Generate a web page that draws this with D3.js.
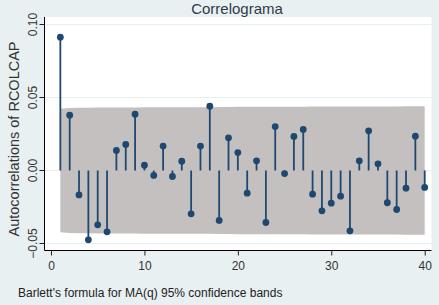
<!DOCTYPE html>
<html>
<head>
<meta charset="utf-8">
<script src="https://cdn.jsdelivr.net/npm/d3@7"></script>
<style>
  body { margin: 0; background: #e9f0f2; }
  svg { display: block; font-family: Arial, "Liberation Sans", sans-serif; }
</style>
</head>
<body>
<div id="chart"></div>
<script>
"use strict";

// autocorrelations by lag
var lags = d3.range(1, 41);
var acf = [0.0913, 0.0379, -0.0167, -0.0475, -0.0372, -0.0420, 0.0137, 0.0178, 0.0386, 0.0036,
           -0.0034, 0.0167, -0.0041, 0.0064, -0.0297, 0.0167, 0.0440, -0.0342, 0.0224, 0.0123,
           -0.0155, 0.0066, -0.0356, 0.0301, -0.0021, 0.0233, 0.0281, -0.0162, -0.0276, -0.0224,
           -0.0176, -0.0413, 0.0066, 0.0272, 0.0046, -0.0221, -0.0267, -0.0121, 0.0235, -0.0116];
// half width of the Bartlett band at each lag
var band = [0.0423, 0.0428, 0.0429, 0.0429, 0.0431, 0.0431, 0.0432, 0.0432, 0.0432, 0.0433,
            0.0433, 0.0433, 0.0433, 0.0433, 0.0433, 0.0434, 0.0434, 0.0435, 0.0435, 0.0436,
            0.0436, 0.0436, 0.0436, 0.0437, 0.0437, 0.0437, 0.0437, 0.0438, 0.0438, 0.0438,
            0.0438, 0.0439, 0.0439, 0.0439, 0.0439, 0.0439, 0.0439, 0.0440, 0.0440, 0.0440];
var xTicks = [0, 10, 20, 30, 40];
var yTicks = [-0.05, 0, 0.05, 0.10];

var W = 439, H = 305;
var plot = { left: 44.5, right: 431.5, top: 17, bottom: 250.5 };

var svg = d3.select("#chart").append("svg").attr("width", W).attr("height", H);

svg.append("rect").attr("width", W).attr("height", H).attr("fill", "#e9f0f2");
svg.append("rect")
  .attr("x", plot.left).attr("y", plot.top)
  .attr("width", plot.right - plot.left).attr("height", plot.bottom - plot.top)
  .attr("fill", "#ffffff");

var x = d3.scaleLinear().domain([0, 40]).range([51, 424.7]);
var y = d3.scaleLinear().domain([-0.05, 0.10]).range([243.5, 24.5]);

// gridlines
svg.append("g").selectAll("line").data(yTicks).join("line")
  .attr("x1", plot.left).attr("x2", plot.right)
  .attr("y1", function (d) { return y(d); }).attr("y2", function (d) { return y(d); })
  .attr("stroke", "#e6eef0").attr("stroke-width", 1.2);

// confidence band
var area = d3.area()
  .x(function (d, i) { return x(lags[i]); })
  .y0(function (d) { return y(-d); })
  .y1(function (d) { return y(d); });
svg.append("path").datum(band).attr("d", area).attr("fill", "#c3c0bf");

// stems + markers
var navy = "#1f4870";
svg.append("g").selectAll("line").data(acf).join("line")
  .attr("x1", function (d, i) { return x(lags[i]); })
  .attr("x2", function (d, i) { return x(lags[i]); })
  .attr("y1", y(0))
  .attr("y2", function (d) { return y(d); })
  .attr("stroke", navy).attr("stroke-width", 1.8);
svg.append("g").selectAll("circle").data(acf).join("circle")
  .attr("cx", function (d, i) { return x(lags[i]); })
  .attr("cy", function (d) { return y(d); })
  .attr("r", 3.4)
  .attr("fill", navy);

// axes
var xAxis = d3.axisBottom(x).tickValues(xTicks).tickSize(5).tickSizeOuter(0).tickFormat(d3.format("d"));
var gx = svg.append("g").attr("transform", "translate(0," + plot.bottom + ")").call(xAxis);
gx.select(".domain").attr("d", "M" + plot.left + ",0H" + plot.right);
gx.selectAll("line").attr("stroke", "#222");
gx.selectAll("text").attr("font-size", 12).attr("fill", "#333").attr("dy", "0.95em");

var yAxis = d3.axisLeft(y).tickValues(yTicks).tickSize(5).tickSizeOuter(0).tickFormat(d3.format(".2f"));
var gy = svg.append("g").attr("transform", "translate(" + plot.left + ",0)").call(yAxis);
gy.select(".domain").attr("d", "M0," + plot.top + "V" + plot.bottom);
gy.selectAll("line").attr("stroke", "#222");
gy.selectAll("text")
  .attr("font-size", 12).attr("fill", "#333")
  .attr("x", 0).attr("dy", 0)
  .attr("text-anchor", "middle")
  .attr("transform", function (d) { return "translate(-8," + y(d) + ") rotate(-90)"; })
  .attr("y", 0);
gy.selectAll(".tick").attr("transform", null);
gy.selectAll(".tick line").attr("y1", function (d) { return y(d); }).attr("y2", function (d) { return y(d); });

// titles
svg.append("text").attr("x", 237).attr("y", 14).attr("text-anchor", "middle")
  .attr("font-size", 15).attr("fill", "#2e3b48").text("Correlograma");
svg.append("text").attr("transform", "translate(18.5,139) rotate(-90)").attr("text-anchor", "middle")
  .attr("font-size", 14.5).attr("fill", "#333").text("Autocorrelations of RCOLCAP");
svg.append("text").attr("x", 18).attr("y", 297)
  .attr("font-size", 12).attr("fill", "#222").text("Barlett's formula for MA(q) 95% confidence bands");
</script>
</body>
</html>
